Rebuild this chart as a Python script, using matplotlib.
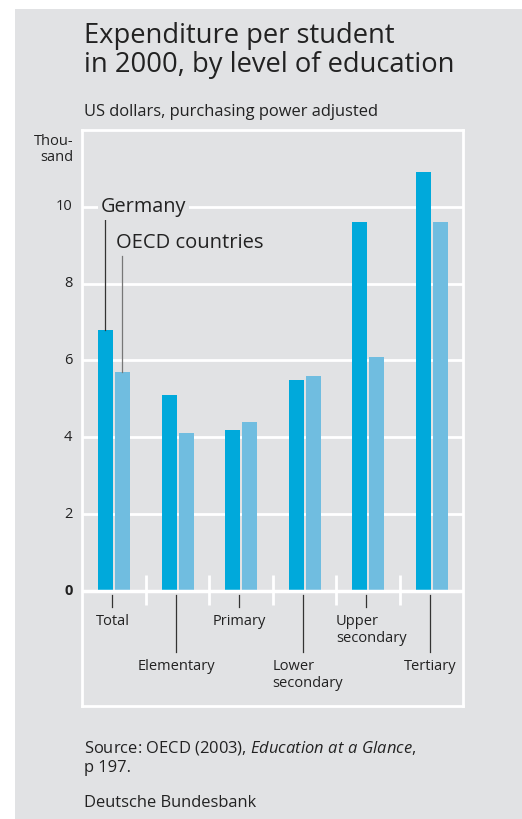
import numpy as np
import matplotlib
matplotlib.use('Agg')
import matplotlib.pyplot as plt
from matplotlib.patches import Rectangle

plt.rcParams['font.family'] = ['Open Sans', 'DejaVu Sans']
plt.rcParams['mathtext.fontset'] = 'custom'
plt.rcParams['mathtext.rm'] = 'Open Sans'
plt.rcParams['mathtext.it'] = 'Open Sans:italic'

categories = ['Total', 'Elementary', 'Primary', 'Lower\nsecondary', 'Upper\nsecondary', 'Tertiary']
germany = [6.8, 5.1, 4.2, 5.5, 9.6, 10.9]
oecd = [5.7, 4.1, 4.4, 5.6, 6.1, 9.6]
yticks = [0, 2, 4, 6, 8, 10]
# label drops below the zero line: short or long
label_drop = ['short', 'long', 'short', 'long', 'short', 'long']

bg = '#e1e2e4'
dark_blue = '#00a9db'
light_blue = '#70bde0'
text_col = '#222222'

fig = plt.figure(figsize=(5.22, 8.19), dpi=100)
fig.patch.set_facecolor('white')
fig.add_artist(Rectangle((15 / 522, 0), 1, (819 - 9) / 819, transform=fig.transFigure,
                         facecolor=bg, edgecolor='none', zorder=-10))

ax = fig.add_axes([82 / 522, 113 / 819, 381 / 522, 576 / 819])
ax.set_facecolor(bg)
for s in ax.spines.values():
    s.set_color('white')
    s.set_linewidth(2)

x = np.arange(len(categories))
w = 0.24
ax.bar(x - 0.005 - w / 2, germany, w, color=dark_blue, zorder=3)
ax.bar(x + 0.02 + w / 2, oecd, w, color=light_blue, zorder=3)

ax.set_xlim(-0.5, 5.5)
ax.set_ylim(-3, 12)

for t in yticks[1:]:
    ax.axhline(t, color='white', lw=2, zorder=1)
ax.axhline(0, color='white', lw=2.5, zorder=4)

# separators between groups around the zero line
for b in np.arange(0.5, 5.5, 1):
    ax.plot([b, b], [0.4, -0.37], color='white', lw=2, zorder=4, solid_capstyle='butt')

ax.set_xticks([])
ax.set_yticks([])
for t in yticks:
    ax.text(-0.65, t, str(t), ha='right', va='center', fontsize=10.5, color=text_col,
            fontweight='bold' if t == 0 else 'normal')
ax.text(-0.63, 11.9, 'Thou-\nsand', ha='right', va='top', fontsize=10.5, color=text_col,
        linespacing=1.15)

# category labels with leader lines
for i, (cat, d) in enumerate(zip(categories, label_drop)):
    xc = x[i] - 0.02
    if d == 'short':
        ax.plot([xc, xc], [-0.1, -0.42], color='#333333', lw=0.9, zorder=4)
        ytop = -0.6
    else:
        ax.plot([xc, xc], [-0.1, -1.6], color='#333333', lw=0.9, zorder=4)
        ytop = -1.78
    ha = 'center'
    xt = xc
    if cat.startswith('Lower') or cat.startswith('Upper'):
        ha = 'left'
        xt = xc - 0.5 + 0.02 if cat.startswith('Lower') else xc - 0.48
    ax.text(xt, ytop, cat, ha=ha, va='top', fontsize=10.5, color=text_col, linespacing=1.2)

# series labels
ax.text(-0.2, 10, 'Germany', ha='left', va='center', fontsize=14.3, color=text_col, zorder=6,
        bbox=dict(facecolor=bg, edgecolor='none', pad=2))
ax.plot([-0.13, -0.13], [9.7, germany[0]], color='#333333', lw=0.9, zorder=5)
ax.text(0.04, 9.05, 'OECD countries', ha='left', va='center', fontsize=14.5, color=text_col, zorder=6)
ax.plot([0.13, 0.13], [8.72, oecd[0]], color='#777777', lw=0.9, zorder=5)

fig.text(84 / 522, 1 - 22 / 819, 'Expenditure per student\nin 2000, by level of education',
         ha='left', va='top', fontsize=19.7, color=text_col, linespacing=1.07)
fig.text(84 / 522, 1 - 112 / 819, 'US dollars, purchasing power adjusted',
         ha='left', va='center', fontsize=11.9, color=text_col)
fig.text(84 / 522, 1 - 748 / 819, 'Source: OECD (2003), $\\mathit{Education\\ at\\ a\\ Glance}$,',
         ha='left', va='center', fontsize=11.9, color=text_col)
fig.text(84 / 522, 1 - 768 / 819, 'p 197.',
         ha='left', va='center', fontsize=11.9, color=text_col)
fig.text(84 / 522, 1 - 803 / 819, 'Deutsche Bundesbank',
         ha='left', va='center', fontsize=11.9, color=text_col)

fig.savefig('out.png', dpi=100, facecolor=fig.get_facecolor())
